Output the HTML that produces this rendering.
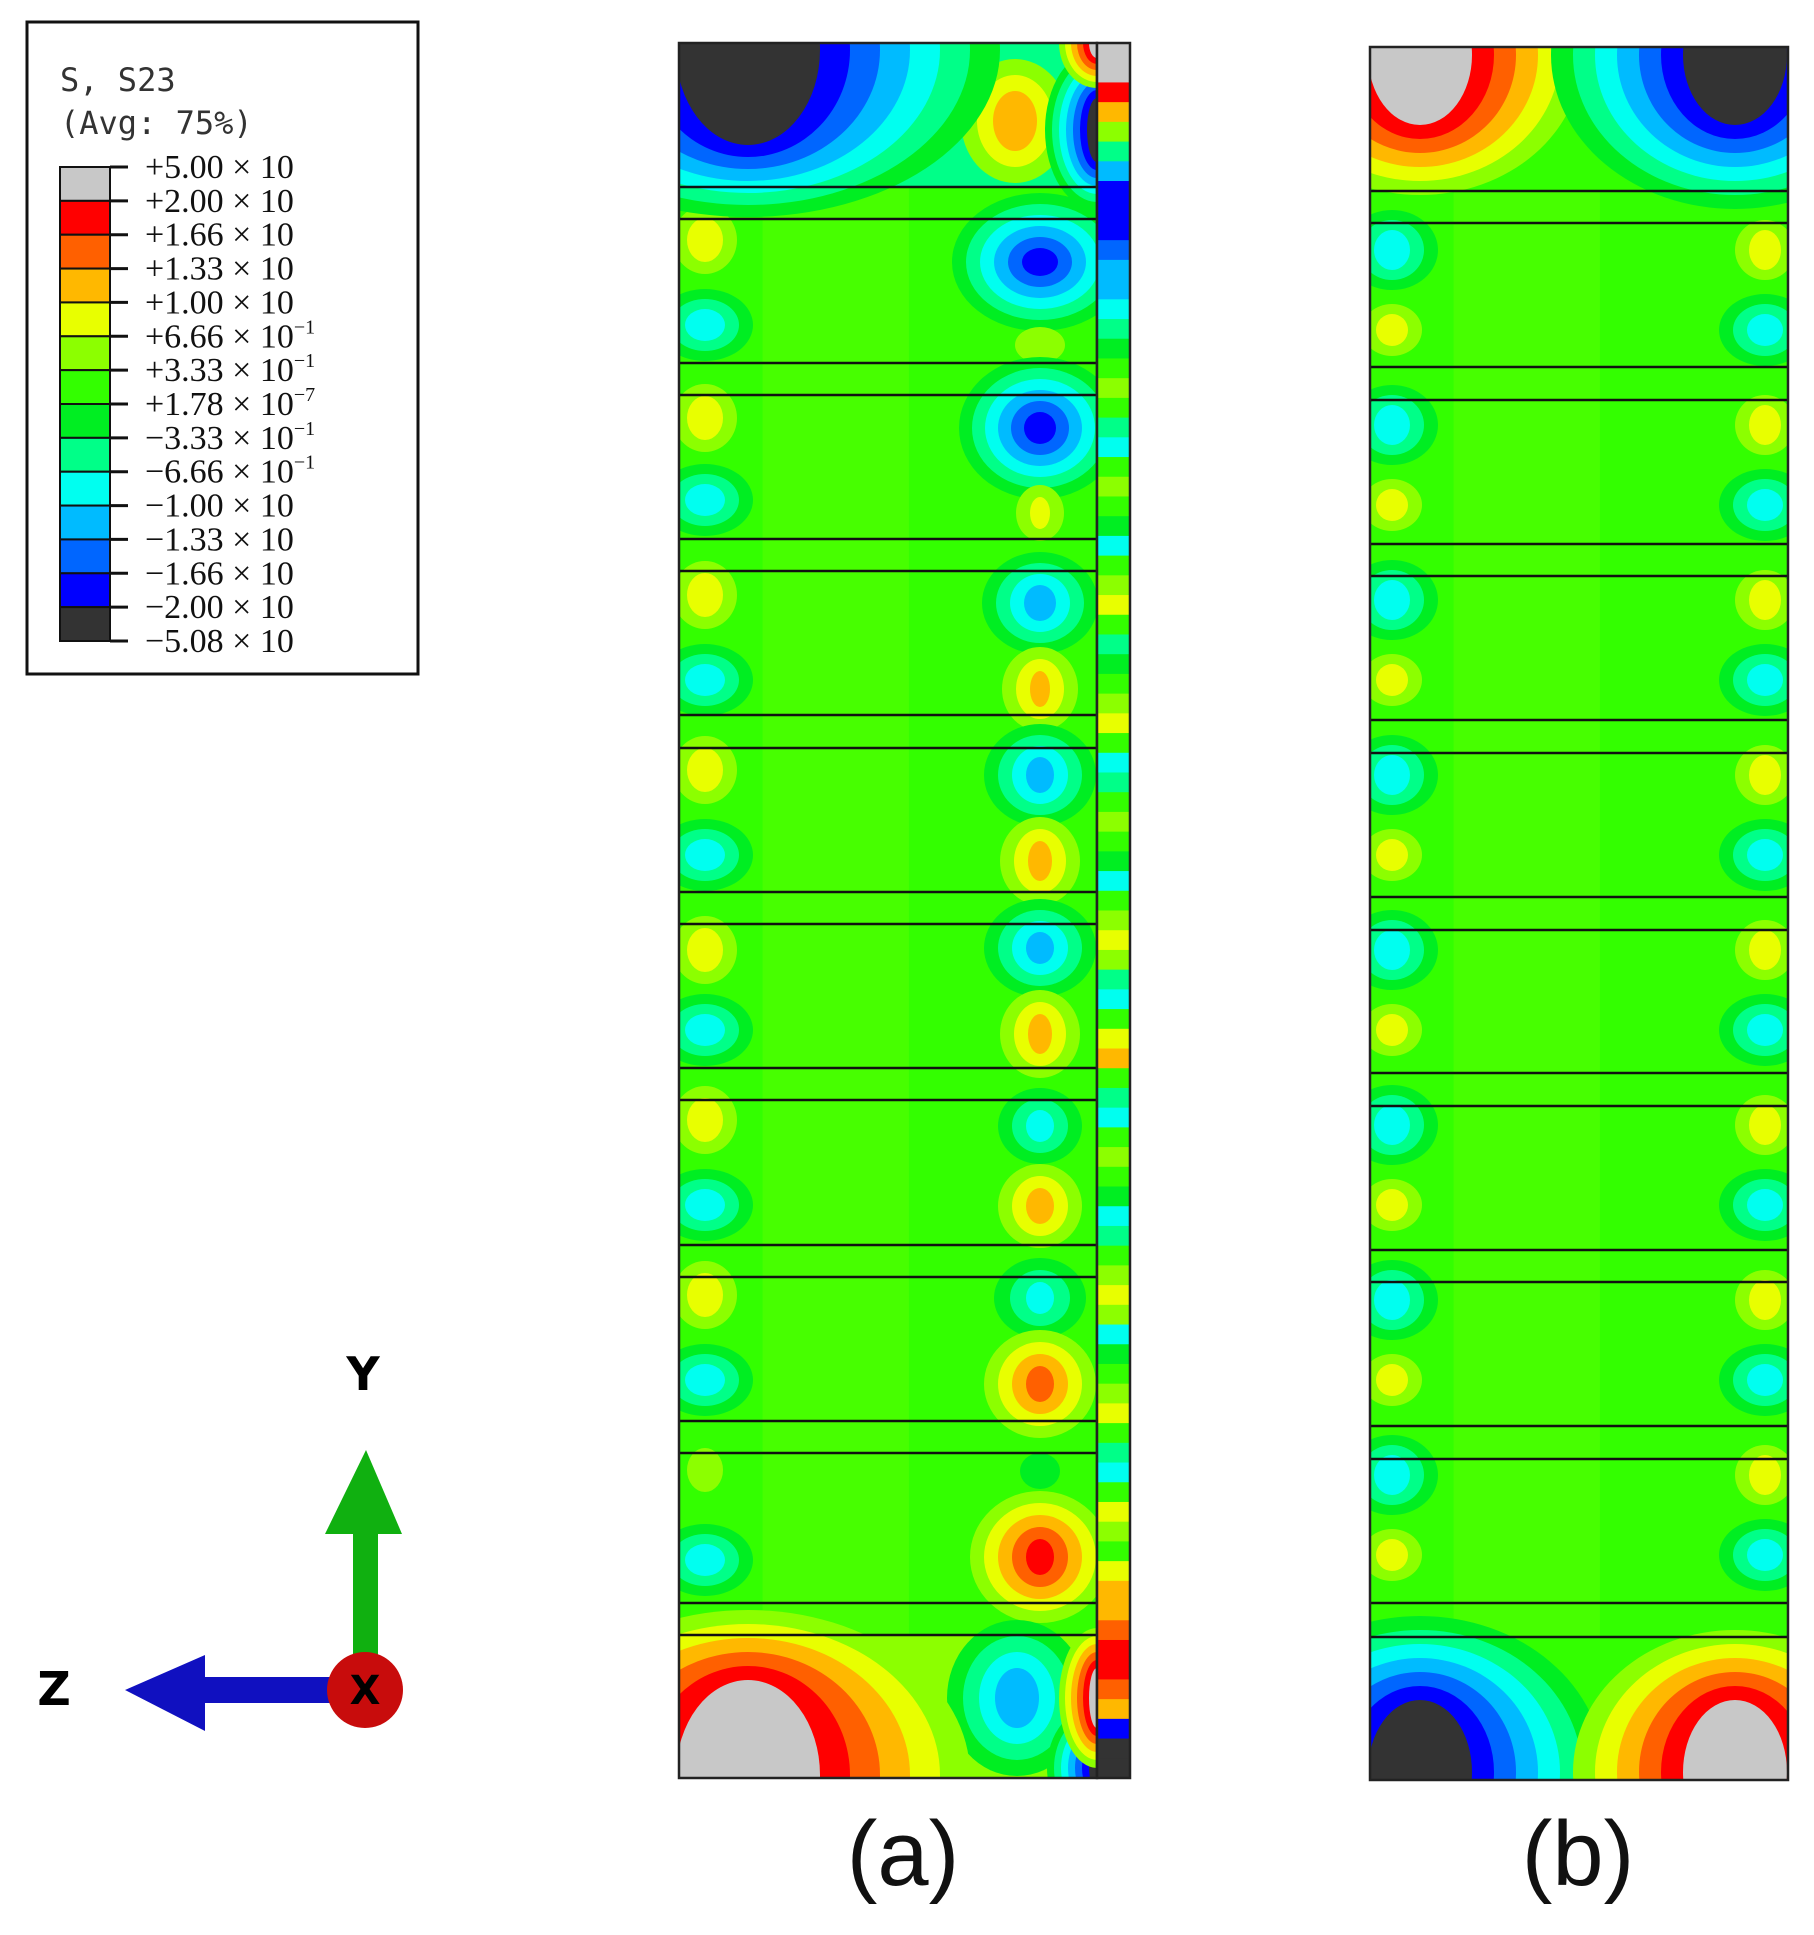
<!DOCTYPE html>
<html><head><meta charset="utf-8"><style>
html,body{margin:0;padding:0;background:#fff;}
svg{display:block;}
</style></head><body>
<svg id="fig" width="1814" height="1935" viewBox="0 0 1814 1935" xmlns="http://www.w3.org/2000/svg">
<defs>
<clipPath id="clipA"><rect x="679" y="43" width="418" height="1735"/></clipPath>
<clipPath id="clipB"><rect x="1370" y="47" width="418" height="1733"/></clipPath>
</defs>
<g id="legend">
<rect x="27" y="22" width="391" height="652" fill="#fff" stroke="#111" stroke-width="3"/>
<text x="60" y="91" font-family="DejaVu Sans Mono, Liberation Mono, monospace" font-size="32" fill="#333">S, S23</text>
<text x="60" y="134" font-family="DejaVu Sans Mono, Liberation Mono, monospace" font-size="32" fill="#333">(Avg: 75%)</text>
<g id="legendBar"></g>
</g>
<g id="panelA"></g>
<g id="panelB"></g>
<text x="903" y="1885" text-anchor="middle" font-family="Liberation Sans, sans-serif" font-size="92" fill="#111">(a)</text>
<text x="1578" y="1885" text-anchor="middle" font-family="Liberation Sans, sans-serif" font-size="92" fill="#111">(b)</text>
<g>
<rect x="353" y="1530" width="25" height="140" fill="#10b010"/>
<polygon points="366,1450 402,1534 325,1534" fill="#10b010"/>
<rect x="200" y="1677" width="140" height="26" fill="#1010c0"/>
<polygon points="125,1690 205,1655 205,1731" fill="#1010c0"/>
<circle cx="365" cy="1690" r="38" fill="#c80c0c"/>
<text x="365" y="1704" text-anchor="middle" font-family="DejaVu Sans, sans-serif" font-weight="bold" font-size="40" fill="#000">X</text>
<text x="363" y="1390" text-anchor="middle" font-family="DejaVu Sans, sans-serif" font-weight="bold" font-size="46" fill="#000">Y</text>
<text x="54" y="1705" text-anchor="middle" font-family="DejaVu Sans, sans-serif" font-weight="bold" font-size="46" fill="#000">Z</text>
</g>
</svg>
<script>
// ---- legend data ----
const levelColors = ["#c8c8c8","#ff0000","#ff6000","#ffb800","#e8ff00","#8cff00","#33ff00","#00ee22","#00ff88","#00fff0","#00bbff","#0066ff","#0000ff","#333333"];
const legendMant = ["+5.00","+2.00","+1.66","+1.33","+1.00","+6.66","+3.33","+1.78","\u22123.33","\u22126.66","\u22121.00","\u22121.33","\u22121.66","\u22122.00","\u22125.08"];
const legendExp = ["","","","","","\u22121","\u22121","\u22127","\u22121","\u22121","","","","",""];
// hotspots: [cx, cy, coreRx, coreRy, peakLevel, stepX, stepY]
const hotA = [
 [1015,121,22,30,3,16,16],[1040,262,18,14,12,14,11],[1040,345,25,18,5,15,10],[1040,428,16,16,12,13,11],[1040,513,10,16,4,14,12],
 [1040,603,16,18,10,14,11],[1040,689,10,18,3,14,12],[1040,775,14,18,10,14,11],[1040,861,12,20,3,14,12],
 [1040,948,14,16,10,14,11],[1040,1034,12,20,3,14,12],[1040,1126,14,16,9,14,11],[1040,1206,14,18,3,14,12],
 [1040,1298,14,16,9,16,12],[1040,1384,14,18,2,14,12],[1040,1471,20,18,7,16,12],[1040,1557,14,18,1,14,12],[1017,1698,22,30,10,16,16],
 [705,240,18,22,4,14,12],[705,325,20,16,9,14,10],[705,418,18,22,4,14,12],[705,500,20,16,9,14,10],[705,595,18,22,4,14,12],[705,680,20,16,9,14,10],
 [705,770,18,22,4,14,12],[705,855,20,16,9,14,10],[705,950,18,22,4,14,12],[705,1030,20,16,9,14,10],[705,1120,18,22,4,14,12],[705,1205,20,16,9,14,10],
 [705,1295,18,22,4,14,12],[705,1380,20,16,9,14,10],[705,1470,18,22,5,14,12],[705,1560,20,16,9,14,10]
];
const hotB = [
 [1392,250,18,20,9,14,10],[1392,330,16,16,4,14,10],[1392,425,18,20,9,14,10],[1392,505,16,16,4,14,10],[1392,600,18,20,9,14,10],[1392,680,16,16,4,14,10],
 [1392,775,18,20,9,14,10],[1392,855,16,16,4,14,10],[1392,950,18,20,9,14,10],[1392,1030,16,16,4,14,10],[1392,1125,18,20,9,14,10],[1392,1205,16,16,4,14,10],
 [1392,1300,18,20,9,14,10],[1392,1380,16,16,4,14,10],[1392,1475,18,20,9,14,10],[1392,1555,16,16,4,14,10],
 [1765,250,16,20,4,14,10],[1765,330,18,16,9,14,10],[1765,425,16,20,4,14,10],[1765,505,18,16,9,14,10],[1765,600,16,20,4,14,10],[1765,680,18,16,9,14,10],
 [1765,775,16,20,4,14,10],[1765,855,18,16,9,14,10],[1765,950,16,20,4,14,10],[1765,1030,18,16,9,14,10],[1765,1125,16,20,4,14,10],[1765,1205,18,16,9,14,10],
 [1765,1300,16,20,4,14,10],[1765,1380,18,16,9,14,10],[1765,1475,16,20,4,14,10],[1765,1555,18,16,9,14,10]
];
// corner blobs: [cx, cy, coreRx, coreRy, peakLevel, stepX, stepY]
const cornersA = [[748,50,72,95,13,30,12],[1097,130,10,32,13,7,8],[1097,43,8,15,0,6,6],[748,1775,72,95,0,30,14],[1097,1768,8,20,13,7,7],[1097,1698,8,30,0,6,8]];
const cornersB = [[1420,55,52,70,0,22,14],[1735,55,52,70,13,22,14],[1420,1772,52,72,13,22,14],[1735,1772,52,72,0,22,14]];
// band line y positions (interfaces)
const bandsA = [187,219,363,395,539,571,715,748,892,924,1068,1100,1245,1277,1421,1453,1603,1635];
const bandsB = [191,223,367,400,544,576,720,753,897,930,1073,1106,1250,1282,1426,1459,1603,1637];
// side strip of panel a (level per chunk)
const stripLevels = [0,0,1,3,5,8,10,12,12,12,11,10,10,9,8,7,6,5,6,8,9,6,5,6,7,9,6,5,4,6,8,7,6,5,4,6,9,8,6,5,6,7,9,6,5,4,5,8,9,6,4,3,6,8,9,6,5,6,7,9,8,6,5,4,5,9,7,6,5,4,6,8,9,6,4,5,6,4,3,3,2,1,1,2,3,12,13,13];

const NS="http://www.w3.org/2000/svg";
function mk(tag, attrs, parent){const e=document.createElementNS(NS,tag);for(const k in attrs)e.setAttribute(k,attrs[k]);parent.appendChild(e);return e;}

const lb=document.getElementById('legendBar');
const barTop=167, barH=(641-167)/14;
levelColors.forEach((c,i)=>{
  const r=mk('rect',{x:60,y:barTop+i*barH,width:50,height:barH,fill:c,stroke:'#111','stroke-width':2},lb);
  
  
});
legendMant.forEach((m,i)=>{
  const y=barTop+i*barH;
  const t=mk('line',{x1:110,y1:y,x2:128,y2:y,stroke:'#111','stroke-width':3},lb);
  
  
  const tx=mk('text',{x:145,y:y+11,'font-family':'Liberation Serif, serif','font-size':34,fill:'#111'},lb);
  
  
  tx.textContent=m+' \u00d7 10';
  if(legendExp[i]){const s=mk('tspan',{'font-size':20,dy:-14},tx);s.textContent=legendExp[i];}
});

function drawSpot(g, s){
  const [cx,cy,crx,cry,peak,sx,sy]=s;
  const levels=[];
  if(peak===0){for(let l=5;l>=0;l--)levels.push(l);}
  else if(peak===13){for(let l=7;l<=13;l++)levels.push(l);}
  else if(peak<6){for(let l=5;l>=peak;l--)levels.push(l);}
  else {for(let l=7;l<=peak;l++)levels.push(l);}
  const n=levels.length;
  levels.forEach((l,k)=>{
    const m=n-1-k;
    const e=mk('ellipse',{cx:cx,cy:cy,rx:crx+m*sx,ry:cry+m*sy,fill:levelColors[l]},g);
    
    
  });
}

function drawPanel(id, clip, x0, y0, w, h, spots, corners, bands, topTint, botTint){
  const g=document.getElementById(id);
  const inner=mk('g',{'clip-path':'url(#'+clip+')'},g);
  const bg=mk('rect',{x:x0,y:y0,width:w,height:h,fill:'#33ff00'},inner);
  
  
  const p=mk('rect',{x:x0+w*0.2,y:y0,width:w*0.35,height:h,fill:'#55ff00',opacity:0.6},inner);
  
  
  const tt=mk('rect',{x:x0,y:y0,width:w,height:bands[0]-y0,fill:topTint},inner);
  
  
  const bt=mk('rect',{x:x0,y:bands[bands.length-1],width:w,height:y0+h-bands[bands.length-1],fill:botTint},inner);
  
  
  spots.forEach(s=>drawSpot(inner,s));
  corners.forEach(s=>drawSpot(inner,s));
  bands.forEach(y=>{
    const l=mk('line',{x1:x0,y1:y,x2:x0+w,y2:y,stroke:'#111','stroke-width':2.5},g);
    
    
  });
  const fr=mk('rect',{x:x0,y:y0,width:w,height:h,fill:'none',stroke:'#222','stroke-width':2.5},g);
  
  
}
drawPanel('panelA','clipA',679,43,418,1735,hotA,cornersA,bandsA,'#00ff88','#8cff00');
drawPanel('panelB','clipB',1370,47,418,1733,hotB,cornersB,bandsB,'#33ff00','#33ff00');

const pa=document.getElementById('panelA');
const sTop=43, sH=(1778-43)/stripLevels.length;
stripLevels.forEach((l,i)=>{
  const r=mk('rect',{x:1097,y:sTop+i*sH,width:33,height:sH+0.5,fill:levelColors[l]},pa);
  
  
});
const sf=mk('rect',{x:1097,y:43,width:33,height:1735,fill:'none',stroke:'#222','stroke-width':2.5},pa);


</script>
</body></html>
